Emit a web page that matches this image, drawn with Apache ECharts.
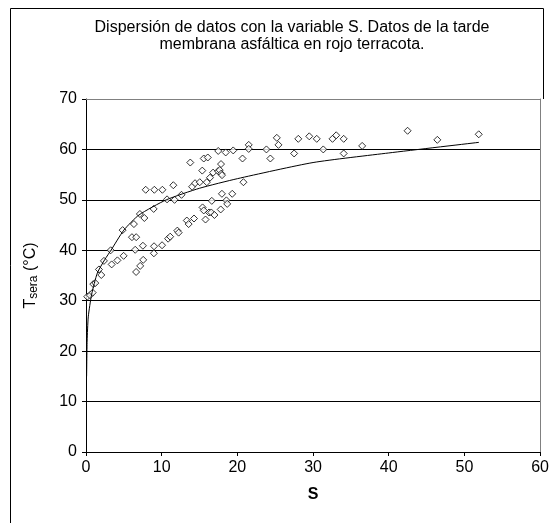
<!DOCTYPE html>
<html>
<head>
<meta charset="utf-8">
<script src="https://cdn.jsdelivr.net/npm/echarts@6/dist/echarts.min.js"></script>
<style>
  html, body { margin: 0; padding: 0; background: #fff; }
  #chart { width: 552px; height: 523px; }
</style>
</head>
<body>
<div id="chart"></div>
<script>
// Observed points (S, Tsera)
const sValues = [
  0.17, 0.53, 0.88, 0.96, 1.23, 1.71, 2.02, 2.37, 3.26, 3.39, 4.15, 4.97, 4.84,
  6.33, 6.07, 6.63, 6.50, 7.12, 7.71, 7.89, 9.03, 10.09, 11.54, 8.94, 10.71, 11.70,
  12.62, 6.62, 7.16, 7.56, 7.52, 8.99, 8.97, 10.05, 10.85, 11.12, 12.07, 12.24,
  13.32, 13.56, 14.27, 13.78, 14.02, 14.41, 15.03, 15.36, 15.56, 16.09, 15.96, 16.38,
  16.79, 17.45, 17.84, 17.67, 17.87, 17.97, 17.47, 18.46, 19.45, 15.40, 15.56, 15.79,
  16.26, 16.62, 16.55, 16.97, 17.80, 17.96, 18.55, 18.66, 19.32, 20.68, 20.80, 21.50,
  21.50, 23.84, 24.36, 25.21, 25.43, 27.50, 28.05, 29.50, 30.49, 31.35, 32.57, 33.06,
  34.05, 34.05, 36.49, 42.49, 46.42, 51.89
];
const tValues = [
  30.8, 31.1, 31.6, 33.3, 33.5, 36.2, 35.1, 37.9, 40.0, 37.2, 38.0, 38.9, 44.0,
  45.2, 42.6, 42.6, 40.1, 47.2, 46.4, 52.0, 52.0, 52.0, 52.9, 48.2, 50.1, 50.0,
  51.0, 35.7, 36.9, 38.1, 40.9, 40.8, 39.4, 41.0, 42.3, 42.7, 43.9, 43.5,
  45.9, 45.2, 46.3, 57.4, 52.6, 53.3, 53.5, 55.8, 58.2, 58.4, 53.5, 54.4,
  55.4, 55.7, 57.1, 55.9, 55.2, 54.9, 59.7, 59.4, 59.8, 48.5, 47.9, 46.1,
  47.5, 49.8, 47.5, 47.0, 48.1, 51.2, 49.9, 49.2, 51.2, 58.2, 53.5, 60.9,
  60.1, 60.0, 58.2, 62.3, 60.9, 59.2, 62.1, 62.6, 62.1, 60.0, 62.1, 62.8,
  62.1, 59.2, 60.7, 63.7, 61.9, 63.0
];
// Trend curve
const trendS = [0.08, 0.15, 0.3, 0.75, 1.5, 2.5, 3.3, 5, 7, 10.6, 15, 20, 30, 40, 51.9];
const trendT = [15, 22, 26.8, 31.3, 35.5, 38.2, 40, 44, 47, 50, 52.3, 54.2, 57.4, 59.3, 61.4];
// Axis ticks
const xTicks = [0, 10, 20, 30, 40, 50, 60];
const yTicks = [0, 10, 20, 30, 40, 50, 60, 70];

const titleLines = ['Dispersión de datos con la variable S. Datos de la tarde',
                    'membrana asfáltica en rojo terracota.'];

const FONT = 'Liberation Sans, Arial, sans-serif';
const chart = echarts.init(document.getElementById('chart'), null, { renderer: 'canvas' });

const scatterData = sValues.map((s, i) => [s, tValues[i]]);
const trendData = trendS.map((s, i) => [s, trendT[i]]);

chart.setOption({
  animation: false,
  backgroundColor: '#ffffff',
  title: {
    text: titleLines.join('\n'),
    left: 287, top: 14, textAlign: 'center',
    textStyle: { fontFamily: FONT, fontSize: 16, fontWeight: 'normal', color: '#000', lineHeight: 17 }
  },
  graphic: [
    { type: 'line', shape: { x1: 10.5, y1: 8.5, x2: 10.5, y2: 523 }, style: { stroke: '#000', lineWidth: 1 } },
    { type: 'line', shape: { x1: 10.5, y1: 8.5, x2: 543.5, y2: 8.5 }, style: { stroke: '#000', lineWidth: 1 } },
    { type: 'line', shape: { x1: 543.5, y1: 8.5, x2: 543.5, y2: 99 }, style: { stroke: '#000', lineWidth: 1 } }
  ],
  grid: { left: 86, right: 10, top: 99, bottom: 71, containLabel: false },
  xAxis: [{
    type: 'value', min: xTicks[0], max: xTicks[xTicks.length - 1], interval: 10,
    name: 'S', nameLocation: 'middle', nameGap: 35,
    nameTextStyle: { fontFamily: FONT, fontSize: 16, fontWeight: 'bold', color: '#000' },
    axisLine: { onZero: false, lineStyle: { color: '#000', width: 1 } },
    axisTick: { show: true, length: 4, lineStyle: { color: '#000' } },
    axisLabel: { margin: 8, fontFamily: FONT, fontSize: 16, color: '#000' },
    splitLine: { show: false }
  }, {
    type: 'value', position: 'top', min: 0, max: 60,
    axisLine: { show: true, onZero: false, lineStyle: { color: '#808080', width: 1 } },
    axisTick: { show: false }, axisLabel: { show: false }, splitLine: { show: false }
  }],
  yAxis: [{
    type: 'value', min: yTicks[0], max: yTicks[yTicks.length - 1], interval: 10,
    name: '{t|T}{s|sera}{t| (°C)}', nameLocation: 'middle', nameGap: 46, nameRotate: 90,
    nameTextStyle: {
      color: '#000',
      rich: {
        t: { fontFamily: FONT, fontSize: 16, color: '#000' },
        s: { fontFamily: FONT, fontSize: 12, color: '#000', verticalAlign: 'bottom', padding: [6, 0, 0, 0] }
      }
    },
    axisLine: { show: true, onZero: false, lineStyle: { color: '#000', width: 1 } },
    axisTick: { show: true, length: 4, lineStyle: { color: '#000' } },
    axisLabel: { margin: 9, fontFamily: FONT, fontSize: 16, color: '#000' },
    splitLine: { show: true, lineStyle: { color: '#000', width: 1 } }
  }, {
    type: 'value', position: 'right', min: 0, max: 70,
    axisLine: { show: true, onZero: false, lineStyle: { color: '#808080', width: 1 } },
    axisTick: { show: false }, axisLabel: { show: false }, splitLine: { show: false }
  }],
  series: [{
    type: 'scatter', data: scatterData, symbol: 'diamond', symbolSize: 7,
    itemStyle: { color: '#ffffff', borderColor: '#000', borderWidth: 1 }, z: 2
  }, {
    type: 'line', data: trendData, showSymbol: false, smooth: 0.2,
    lineStyle: { color: '#000', width: 1 }, z: 3
  }]
});
</script>
</body>
</html>
